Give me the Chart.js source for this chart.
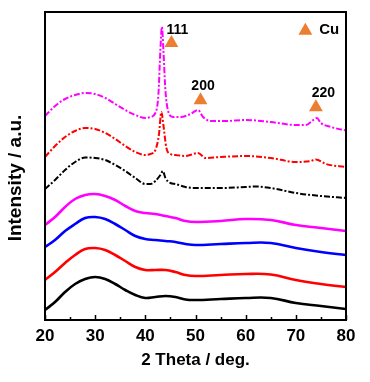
<!DOCTYPE html>
<html>
<head>
<meta charset="utf-8">
<script src="https://cdn.jsdelivr.net/npm/chart.js@4/dist/chart.umd.min.js"></script>
<style>
  html, body { margin: 0; padding: 0; background: #fff; }
  #wrap { width: 370px; height: 382px; position: relative; }
</style>
</head>
<body>
<div id="wrap"><canvas id="c"></canvas></div>
<script>
// ---- data (2θ in degrees, intensity in arbitrary units, curves offset) ----
const solidAngles = [20,22,24,26,28,30,32,34,36,38,40,42,44,46,48,50,55,60,65,70,75,80];
const blackSolid   = [10,18,28,36,41,43,41,36,30,25,22,23,24,23,20.5,20,21,22,22,17,14,11];
const redSolid     = [40,48,57,65,71,72,70,65,59,53,50,50,50,48,45,44,45,46,45.5,40,36,33];
const blueSolid    = [73,80,89,96,102,103,101,96,90,84,81,80,79,78,76,75,76,77,77,72,68,65];
const magentaSolid = [95,103,113,121,125,126,124,120,114,109,107,106,104,102,99,98,99,101,100,95,92,89];

const blackDashAngles = [20,22,24,26,28,30,32,34,36,38,40,41,42,43,43.5,44,45,46,48,50,55,60,62,65,70,75,80];
const blackDash       = [131,140,150,158,162.5,162,160,155,149,142,136,136,139,145,149,142,137,136,133,132,132,133,133.5,132,127,124,122];

const redDashAngles = [20,22,24,26,28,30,32,34,36,38,40,41,42,42.7,43.2,43.6,44.2,45,46,48,50.5,52,55,60,65,70,73,74,76,80];
const redDash       = [163,174,183,189,192,191,187,181,174,168,165,166,170,185,208,195,172,166,165,164,167,162,163,164,162,158,159,160.5,156,153];

const magentaDashAngles = [20,22,24,26,28,30,32,34,36,38,40,41,42,42.6,43.0,43.3,43.6,44.0,44.6,45.5,47,49,50.5,51.5,53,56,60,65,70,72,73,74.2,75,77,80];
const magentaDash       = [204,214,221,225,227,226,222,216,210,205,202,203,207,225,270,293,270,230,208,203,203,206,210,203,199,199,200,198,195,195,198,202,197,193,189.5];

// Cu reflection markers and their labels
const peakAngles = [45.2, 51, 74];
const peakMarkY  = [277, 219.7, 212.7];
const peakLabels = ["111", "200", "220"];
const peakLabelX = [46.4, 51.5, 75.5];
const peakLabelY = [290, 234, 226.7];
const legendMark = [71.9, 289.3];
const legendText = "Cu";
const legendTextPos = [74.66, 290];

const xTicks = [20, 30, 40, 50, 60, 70, 80];
const xMinorTicks = [25, 35, 45, 55, 65, 75];
const yTitle = 'Intensity / a.u.';

const ORANGE = '#ED7D31';
const FONT = '"Liberation Sans", Arial, sans-serif';
const zip = (xs, ys) => xs.map((x, i) => ({x, y: ys[i]}));

function lineDs(xs, ys, color, dashed) {
  const ds = {
    type: 'line',
    data: zip(xs, ys),
    borderColor: color,
    backgroundColor: color,
    borderWidth: dashed ? 2 : 2.6,
    borderDash: dashed ? [6, 2, 2, 2] : [],
    pointRadius: 0,
    fill: false
  };
  if (dashed) ds.cubicInterpolationMode = 'monotone';
  else ds.tension = 0.4;
  return ds;
}

const decor = {
  id: 'decor',
  afterDatasetsDraw(chart) {
    const {ctx, chartArea: a, scales: {x, y}} = chart;
    ctx.save();
    // frame
    ctx.strokeStyle = '#000';
    ctx.lineWidth = 2;
    ctx.strokeRect(a.left, a.top, a.right - a.left, a.bottom - a.top);
    // inward ticks on bottom axis
    ctx.lineWidth = 1.5;
    ctx.beginPath();
    xTicks.forEach(v => { const px = Math.round(x.getPixelForValue(v)) + 0.5; ctx.moveTo(px, a.bottom); ctx.lineTo(px, a.bottom - 5); });
    xMinorTicks.forEach(v => { const px = Math.round(x.getPixelForValue(v)) + 0.5; ctx.moveTo(px, a.bottom); ctx.lineTo(px, a.bottom - 3); });
    ctx.stroke();
    // peak labels
    ctx.fillStyle = '#000';
    ctx.font = 'bold 14px ' + FONT;
    ctx.textAlign = 'center';
    ctx.textBaseline = 'middle';
    peakLabels.forEach((t, i) => ctx.fillText(t, x.getPixelForValue(peakLabelX[i]), y.getPixelForValue(peakLabelY[i])));
    // legend text
    ctx.font = 'bold 15px ' + FONT;
    ctx.textAlign = 'left';
    ctx.fillText(legendText, x.getPixelForValue(legendTextPos[0]), y.getPixelForValue(legendTextPos[1]));
    // y axis title
    ctx.translate(16, (a.top + a.bottom) / 2 + 12);
    ctx.rotate(-Math.PI / 2);
    ctx.textAlign = 'center';
    ctx.font = 'bold 19px ' + FONT;
    ctx.fillText(yTitle, 0, 0);
    ctx.restore();
  }
};

new Chart(document.getElementById('c'), {
  data: {
    datasets: [
      lineDs(solidAngles, blackSolid, '#000000', false),
      lineDs(solidAngles, redSolid, '#FF0000', false),
      lineDs(solidAngles, blueSolid, '#0000FF', false),
      lineDs(solidAngles, magentaSolid, '#FF00FF', false),
      lineDs(blackDashAngles, blackDash, '#000000', true),
      lineDs(redDashAngles, redDash, '#FF0000', true),
      lineDs(magentaDashAngles, magentaDash, '#FF00FF', true),
      {
        type: 'scatter',
        data: zip(peakAngles, peakMarkY).concat([{x: legendMark[0], y: legendMark[1]}]),
        pointStyle: 'triangle',
        pointRadius: 8,
        pointHoverRadius: 8,
        backgroundColor: ORANGE,
        borderColor: ORANGE,
        borderWidth: 0
      }
    ]
  },
  options: {
    responsive: true,
    maintainAspectRatio: false,
    animation: false,
    events: [],
    layout: { padding: { top: 12, right: 24, left: 0, bottom: 0 } },
    plugins: { legend: { display: false }, tooltip: { enabled: false } },
    scales: {
      x: {
        type: 'linear',
        min: 20, max: 80,
        grid: { display: false, drawTicks: false },
        border: { display: false },
        ticks: {
          stepSize: 10,
          padding: 6,
          color: '#000',
          font: { family: FONT, size: 17, weight: 'bold' },
          maxRotation: 0
        },
        title: {
          display: true,
          text: '2 Theta / deg.',
          color: '#000',
          font: { family: FONT, size: 17, weight: 'bold' },
          padding: { top: 0, bottom: 11 }
        },
        afterFit(s) { s.height = 62; }
      },
      y: {
        type: 'linear',
        min: 0, max: 308,
        grid: { display: false, drawTicks: false },
        border: { display: false },
        ticks: { display: false },
        title: { display: false },
        afterFit(s) { s.width = 45; }
      }
    }
  },
  plugins: [decor]
});
</script>
</body>
</html>
